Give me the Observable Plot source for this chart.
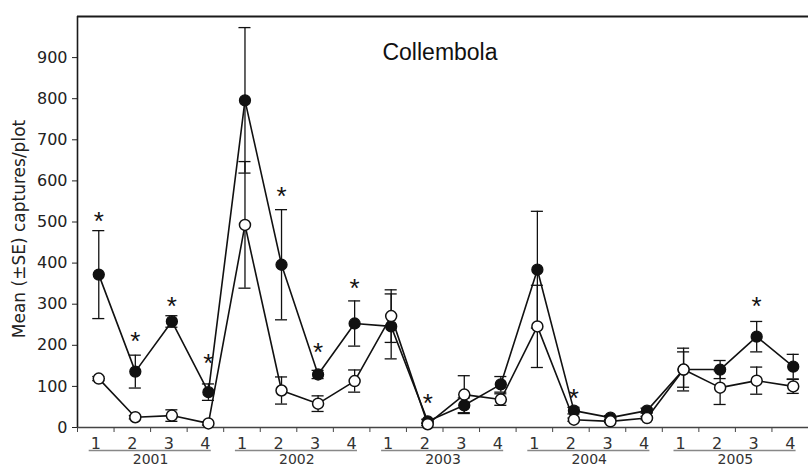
<!DOCTYPE html>
<html><head><meta charset="utf-8">
<script src="https://cdn.jsdelivr.net/npm/d3@7"></script>
<script src="https://cdn.jsdelivr.net/npm/@observablehq/plot@0.6"></script>
<style>body{margin:0;background:#fff} #chart svg{display:block}</style>
</head><body><div id="chart"></div>
<script>
const years = ["2001", "2002", "2003", "2004", "2005"];
const quarters = ["1", "2", "3", "4"];
// filled circles
const filledMean = [372, 136, 258, 86, 796, 396, 129, 253, 246, 15, 54, 105, 384, 41, 24, 41, 141, 141, 221, 148];
const filledSE   = [107, 40, 14, 20, 177, 134, 10, 55, 79, 5, 18, 19, 142, 8, 5, 6, 52, 22, 37, 30];
// open circles
const openMean = [119, 25, 29, 10, 493, 90, 58, 113, 271, 8, 80, 68, 246, 19, 15, 23, 141, 97, 114, 100];
const openSE   = [5, 4, 14, 4, 154, 33, 19, 27, 64, 3, 46, 14, 100, 4, 3, 4, 43, 41, 33, 17];
// significance asterisks
const starIndex  = [0, 1, 2, 3, 5, 6, 7, 9, 13, 18];
const starHeight = [521, 229, 314, 175, 582, 202, 358, 78, 90, 314];
const yTicks = [0, 100, 200, 300, 400, 500, 600, 700, 800, 900];
const title = "Collembola";
const yLabel = "Mean (±SE) captures/plot";

const cells = [];
years.forEach((yr, yi) => quarters.forEach((q, qi) => cells.push({i: yi * 4 + qi, year: yr, q})));
const filled = filledMean.map((m, i) => ({i, m, se: filledSE[i]}));
const open = openMean.map((m, i) => ({i, m, se: openSE[i]}));
const stars = starIndex.map((i, k) => ({i, h: starHeight[k]}));

const ink = "#111";
const cx = d => d.i + 0.5;
const capW = 0.165;
const shift = 3;
const tickFont = "'DejaVu Sans', Verdana, sans-serif";

function errorMarks(data) {
  return [
    Plot.ruleX(data, {x: cx, y1: d => d.m - d.se, y2: d => d.m + d.se, stroke: ink, strokeWidth: 1.3, dx: shift}),
    Plot.ruleY(data, {y: d => d.m + d.se, x1: d => cx(d) - capW, x2: d => cx(d) + capW, stroke: ink, strokeWidth: 1.3, dx: shift}),
    Plot.ruleY(data, {y: d => d.m - d.se, x1: d => cx(d) - capW, x2: d => cx(d) + capW, stroke: ink, strokeWidth: 1.3, dx: shift})
  ];
}

const chart = Plot.plot({
  width: 808,
  height: 468,
  marginTop: 16,
  marginBottom: 41,
  marginLeft: 77,
  marginRight: 0,
  style: {fontFamily: "'Liberation Sans', Arial, sans-serif", fontSize: "16px", color: "#222", background: "#fff"},
  x: {domain: [0, 20], axis: null},
  y: {domain: [0, 1000], axis: null},
  marks: [
    // x axis line
    Plot.ruleY([0], {stroke: "#444", strokeWidth: 1.5}),
    // y axis
    Plot.axisY(yTicks, {tickSize: 5, tickPadding: 5, fontSize: 16, fontFamily: tickFont, stroke: "#222", fill: "#222", label: null}),
    // x axis ticks
    Plot.axisX(d3.range(21), {tickSize: 5, tickFormat: () => "", stroke: "#444", label: null}),
    // quarter labels
    Plot.text(cells, {x: cx, y: () => 0, text: "q", dy: 16, fontSize: 16, fontFamily: tickFont, fill: "#333"}),
    // year underlines
    Plot.ruleY(years, {y: () => 0, x1: (d, k) => k * 4 + 0.32, x2: (d, k) => k * 4 + 3.66, dy: 23, stroke: "#888", strokeWidth: 1.5}),
    // year labels
    Plot.text(years, {x: (d, k) => k * 4 + 2, y: () => 0, text: d => d, dy: 32, lineAnchor: "middle", fontSize: 14, fontFamily: tickFont, fill: "#333"}),
    // series lines
    Plot.line(filled, {x: cx, y: "m", stroke: ink, strokeWidth: 1.6, dx: shift}),
    Plot.line(open, {x: cx, y: "m", stroke: ink, strokeWidth: 1.6, dx: shift}),
    ...errorMarks(filled),
    ...errorMarks(open),
    Plot.dot(filled, {x: cx, y: "m", r: 5.5, fill: ink, stroke: ink, strokeWidth: 1.3, dx: shift}),
    Plot.dot(open, {x: cx, y: "m", r: 5.5, fill: "#fff", stroke: ink, strokeWidth: 1.5, dx: shift}),
    // asterisks
    Plot.text(stars, {x: cx, y: "h", text: () => "*", fontSize: 26, dx: shift, dy: 8, fill: ink}),
    // title
    Plot.text([title], {frameAnchor: "top", textAnchor: "middle", text: d => d, dx: -3, dy: 36, lineAnchor: "middle", fontSize: 23, fill: "#111"}),
    // y label
    Plot.text([yLabel], {frameAnchor: "left", textAnchor: "middle", lineAnchor: "middle", text: d => d, rotate: -90, dx: -58, dy: 7, fontSize: 17, fontFamily: tickFont, fill: "#222"}),
    // frame: top and left
    Plot.ruleY([1000], {stroke: "#1a1a1a", strokeWidth: 2}),
    Plot.ruleX([0], {stroke: "#1a1a1a", strokeWidth: 1.6})
  ]
});
document.getElementById("chart").append(chart);
</script>
</body></html>
